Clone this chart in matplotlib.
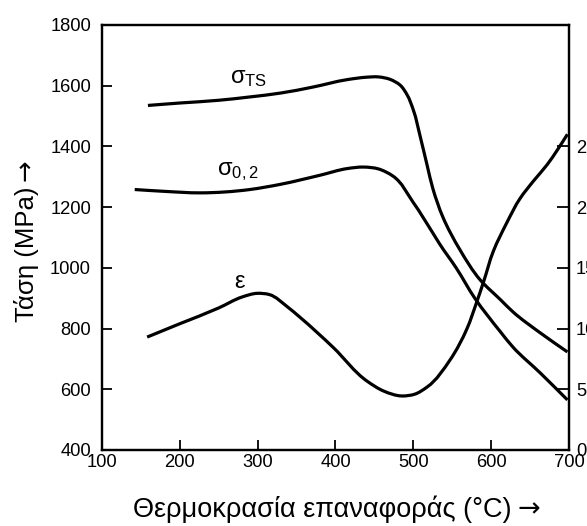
import matplotlib
matplotlib.use("Agg")
import matplotlib.pyplot as plt
from matplotlib.path import Path
from matplotlib.patches import PathPatch

plt.rcParams['font.family'] = ['Liberation Sans', 'DejaVu Sans']
plt.rcParams['mathtext.fontset'] = 'custom'
plt.rcParams['mathtext.rm'] = 'Liberation Sans'
plt.rcParams['mathtext.it'] = 'Liberation Sans:italic'

# sigma_TS (MPa)
ts_x = [159, 200, 250, 290, 330, 370, 415, 440, 455, 470, 483, 492, 500, 509, 518, 525, 538,
        560, 586, 612, 628, 663, 698]
ts_y = [1535, 1543, 1552, 1563, 1576, 1595, 1620, 1628, 1629, 1621, 1602, 1570, 1520, 1431,
        1335, 1262, 1167, 1059, 960, 895, 855, 786, 723]

# sigma_0.2 (MPa)
ys_x = [142, 180, 226, 290, 329, 380, 415, 436, 455, 474, 500, 525, 534, 555, 579, 612,
        628, 663, 698]
ys_y = [1258, 1252, 1247, 1258, 1275, 1305, 1327, 1332, 1326, 1302, 1215, 1115, 1078,
        1000, 900, 789, 739, 654, 565]

# elongation epsilon (%)
el_x = [158, 200, 250, 280, 299, 315, 338, 354, 397, 441, 462, 485, 502, 518, 547, 569, 581,
        590, 603, 620, 637, 655, 672, 685, 698]
el_y = [9.3, 10.4, 11.7, 12.6, 12.9, 12.8, 11.8, 10.95, 8.45, 5.65, 4.85, 4.45, 4.6, 5.2, 7.4,
        10.0, 12.1, 13.8, 16.4, 18.7, 20.7, 22.2, 23.5, 24.7, 26.0]

x_ticks = [100, 200, 300, 400, 500, 600, 700]
y_ticks = [400, 600, 800, 1000, 1200, 1400, 1600, 1800]
r_ticks = [0, 5, 10, 15, 20, 25]


def smooth_path(xs, ys, sx, sy):
    """Chordal Catmull-Rom curve through the read points, as cubic Bezier segments.
    sx, sy: data ranges used only to measure chord lengths evenly."""
    pts = list(zip(xs, ys))
    n = len(pts)

    def dist(a, b):
        return (((a[0] - b[0]) / sx) ** 2 + ((a[1] - b[1]) / sy) ** 2) ** 0.5

    tangents = []
    for i in range(n):
        if i == 0:
            d = dist(pts[0], pts[1])
            tangents.append(((pts[1][0] - pts[0][0]) / d, (pts[1][1] - pts[0][1]) / d))
        elif i == n - 1:
            d = dist(pts[-2], pts[-1])
            tangents.append(((pts[-1][0] - pts[-2][0]) / d, (pts[-1][1] - pts[-2][1]) / d))
        else:
            d0 = dist(pts[i - 1], pts[i])
            d1 = dist(pts[i], pts[i + 1])
            tx = ((pts[i][0] - pts[i - 1][0]) / d0 * d1 + (pts[i + 1][0] - pts[i][0]) / d1 * d0) / (d0 + d1)
            ty = ((pts[i][1] - pts[i - 1][1]) / d0 * d1 + (pts[i + 1][1] - pts[i][1]) / d1 * d0) / (d0 + d1)
            tangents.append((tx, ty))

    verts = [pts[0]]
    codes = [Path.MOVETO]
    for i in range(n - 1):
        d = dist(pts[i], pts[i + 1])
        p1, p2 = pts[i], pts[i + 1]
        m1, m2 = tangents[i], tangents[i + 1]
        c1 = (p1[0] + m1[0] * d / 3.0, p1[1] + m1[1] * d / 3.0)
        c2 = (p2[0] - m2[0] * d / 3.0, p2[1] - m2[1] * d / 3.0)
        verts += [c1, c2, p2]
        codes += [Path.CURVE4] * 3
    return Path(verts, codes)


fig = plt.figure(figsize=(5.87, 5.26), dpi=100)
ax = fig.add_axes([0.1738, 0.1445, 0.7955, 0.808])
ax2 = ax.twinx()

lw = 2.3
for a, xs, ys, sy in ((ax, ts_x, ts_y, 1400.0), (ax, ys_x, ys_y, 1400.0), (ax2, el_x, el_y, 35.0)):
    a.add_patch(PathPatch(smooth_path(xs, ys, 600.0, sy), facecolor='none', edgecolor='black',
                          lw=lw, joinstyle='round', capstyle='butt'))

ax.set_xlim(100, 700)
ax.set_ylim(400, 1800)
ax2.set_ylim(0, 35)
ax.set_xticks(x_ticks)
ax.set_yticks(y_ticks)
ax2.set_yticks(r_ticks)

for a in (ax, ax2):
    for s in a.spines.values():
        s.set_linewidth(1.6)
ax.tick_params(axis='both', direction='in', length=7, width=1.3, labelsize=13.2)
ax.tick_params(axis='y', pad=8)
ax.tick_params(axis='x', pad=3)
ax2.tick_params(axis='y', direction='in', length=9, width=1.3, labelsize=13.2, pad=5)

ax.set_xlabel('Θερμοκρασία επαναφοράς (°C)', fontsize=19.5)
ax.xaxis.set_label_coords(0.472, -0.108)
ax.set_ylabel('Τάση (MPa)', fontsize=18.5)
ax.yaxis.set_label_coords(-0.135, 0.46)
ax.annotate('→', xy=(1, 0.5), xycoords=ax.xaxis.label, xytext=(4, 0),
            textcoords='offset points', ha='left', va='center',
            fontsize=19.5, family='DejaVu Sans')
ax.annotate('→', xy=(0.5, 1), xycoords=ax.yaxis.label, xytext=(0, 4),
            textcoords='offset points', ha='center', va='bottom', rotation=90,
            fontsize=18.5, family='DejaVu Sans')

ax.text(288, 1625, r'σ$_{\mathrm{TS}}$', fontsize=17, ha='center', va='center')
ax.text(275, 1318, r'σ$_{\mathrm{0,2}}$', fontsize=17, ha='center', va='center')
ax.text(277, 955, 'ε', fontsize=17, ha='center', va='center')

fig.savefig('out.png', dpi=100)
